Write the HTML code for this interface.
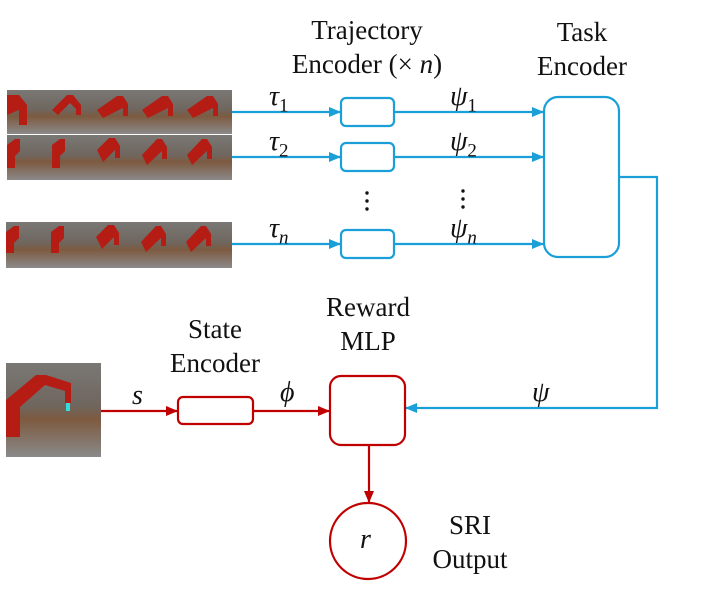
<!DOCTYPE html>
<html><head><style>
body{margin:0;background:#fff;width:714px;height:589px;overflow:hidden;position:relative;font-family:"Liberation Serif",serif;}
.t{position:absolute;font-size:27px;color:#111;text-align:center;line-height:34px;}
.m{position:absolute;font-size:28px;font-style:italic;color:#111;font-family:"Liberation Serif",serif;line-height:30px;}
.m sub{font-style:normal;font-size:19px;}
</style></head><body>
<svg width="714" height="589" style="position:absolute;left:0;top:0">
<defs>
<linearGradient id="g" x1="0" y1="0" x2="0" y2="1">
<stop offset="0" stop-color="#7a7875"/><stop offset="0.45" stop-color="#6f665e"/><stop offset="0.6" stop-color="#7d5a40"/><stop offset="1" stop-color="#8a8a8a"/></linearGradient>
<marker id="ab" markerWidth="12" markerHeight="10" refX="11" refY="5" orient="auto" markerUnits="userSpaceOnUse"><path d="M0,0 L12,5 L0,10z" fill="#1a9fd8"/></marker>
<marker id="ar" markerWidth="12" markerHeight="10" refX="11" refY="5" orient="auto" markerUnits="userSpaceOnUse"><path d="M0,0 L12,5 L0,10z" fill="#c00000"/></marker>
</defs>
<g>
<rect x="7" y="90" width="225" height="44" fill="url(#g)"/>
<rect x="7" y="135" width="225" height="45" fill="url(#g)"/>
<rect x="6" y="222" width="226" height="46" fill="url(#g)"/>
<g fill="#b51c14">
<path d="M7,95 h12 l8,10 v20 h-8 v-15 l-12 5z"/><path d="M52,110 l15,-15 h6 l8,10 v10 h-5 v-6 l-6,-6 l-12,12z"/><path d="M97,110 l20,-14 h6 l5,8 v12 h-5 v-8 l-20,10z"/><path d="M142,110 l20,-14 h6 l5,8 v12 h-5 v-8 l-20,10z"/><path d="M187,110 l20,-14 h6 l5,8 v12 h-5 v-8 l-20,10z"/>
<path d="M7,145 l8,-6 h5 v12 l-5,5 v12 h-8z"/><path d="M52,145 l8,-6 h5 v12 l-5,5 v12 h-8z"/><path d="M97,150 l12,-12 h6 l5,8 v12 h-5 v-8 l-12,12z"/><path d="M142,155 l15,-16 h5 l5,8 v12 h-5 v-8 l-15,14z"/><path d="M187,155 l15,-16 h5 l5,8 v12 h-5 v-8 l-15,14z"/>
<path d="M6,232 l8,-6 h5 v12 l-5,5 v10 h-8z"/><path d="M51,232 l8,-6 h5 v12 l-5,5 v10 h-8z"/><path d="M96,237 l12,-12 h6 l5,8 v12 h-5 v-8 l-12,12z"/><path d="M141,242 l15,-16 h5 l5,8 v12 h-5 v-8 l-15,14z"/><path d="M186,242 l15,-16 h5 l5,8 v12 h-5 v-8 l-15,14z"/>
</g>
<rect x="6" y="363" width="95" height="94" fill="url(#g)"/>
<path d="M6,400 l30,-25 h10 l25,8 v20 h-6 v-12 l-20,-6 l-25,22 v30 h-14z" fill="#b51c14"/>
<rect x="66" y="403" width="4" height="8" fill="#3dd"/>
</g>
<g stroke="#1a9fd8" stroke-width="2.2" fill="none">
<line x1="232" y1="112" x2="340" y2="112" marker-end="url(#ab)"/>
<line x1="232" y1="157" x2="340" y2="157" marker-end="url(#ab)"/>
<line x1="232" y1="244" x2="340" y2="244" marker-end="url(#ab)"/>
<rect x="341" y="98" width="53" height="28" rx="5"/>
<rect x="341" y="143" width="53" height="28" rx="5"/>
<rect x="341" y="230" width="53" height="28" rx="5"/>
<line x1="394" y1="112" x2="543" y2="112" marker-end="url(#ab)"/>
<line x1="394" y1="157" x2="543" y2="157" marker-end="url(#ab)"/>
<line x1="394" y1="244" x2="543" y2="244" marker-end="url(#ab)"/>
<rect x="544" y="97" width="75" height="160" rx="14"/>
<polyline points="619,177 657,177 657,408 406,408" marker-end="url(#ab)"/>
</g>
<g stroke="#c00000" stroke-width="2.2" fill="none">
<line x1="101" y1="411" x2="177" y2="411" marker-end="url(#ar)"/>
<rect x="178" y="397" width="75" height="27" rx="5"/>
<line x1="253" y1="411" x2="329" y2="411" marker-end="url(#ar)"/>
<rect x="330" y="376" width="75" height="69" rx="11"/>
<line x1="369" y1="445" x2="369" y2="502" marker-end="url(#ar)"/>
<circle cx="368" cy="541" r="38"/>
</g>
<g fill="#111"><circle cx="367" cy="193" r="1.7"/><circle cx="367" cy="201" r="1.7"/><circle cx="367" cy="209" r="1.7"/>
<circle cx="463" cy="191" r="1.7"/><circle cx="463" cy="199" r="1.7"/><circle cx="463" cy="207" r="1.7"/></g>
</svg>
<div class="t" style="left:257px;top:13px;width:220px">Trajectory<br>Encoder (× <i>n</i>)</div>
<div class="t" style="left:512px;top:15px;width:140px">Task<br>Encoder</div>
<div class="t" style="left:150px;top:312px;width:130px">State<br>Encoder</div>
<div class="t" style="left:305px;top:290px;width:126px">Reward<br>MLP</div>
<div class="t" style="left:410px;top:508px;width:120px">SRI<br>Output</div>
<div class="m" style="left:269px;top:82px">τ<sub>1</sub></div>
<div class="m" style="left:269px;top:127px">τ<sub>2</sub></div>
<div class="m" style="left:269px;top:214px">τ<sub><i>n</i></sub></div>
<div class="m" style="left:450px;top:82px">ψ<sub>1</sub></div>
<div class="m" style="left:450px;top:127px">ψ<sub>2</sub></div>
<div class="m" style="left:450px;top:214px">ψ<sub><i>n</i></sub></div>
<div class="m" style="left:132px;top:381px">s</div>
<div class="m" style="left:280px;top:378px">ϕ</div>
<div class="m" style="left:532px;top:378px">ψ</div>
<div class="m" style="left:360px;top:525px">r</div>
</body></html>
